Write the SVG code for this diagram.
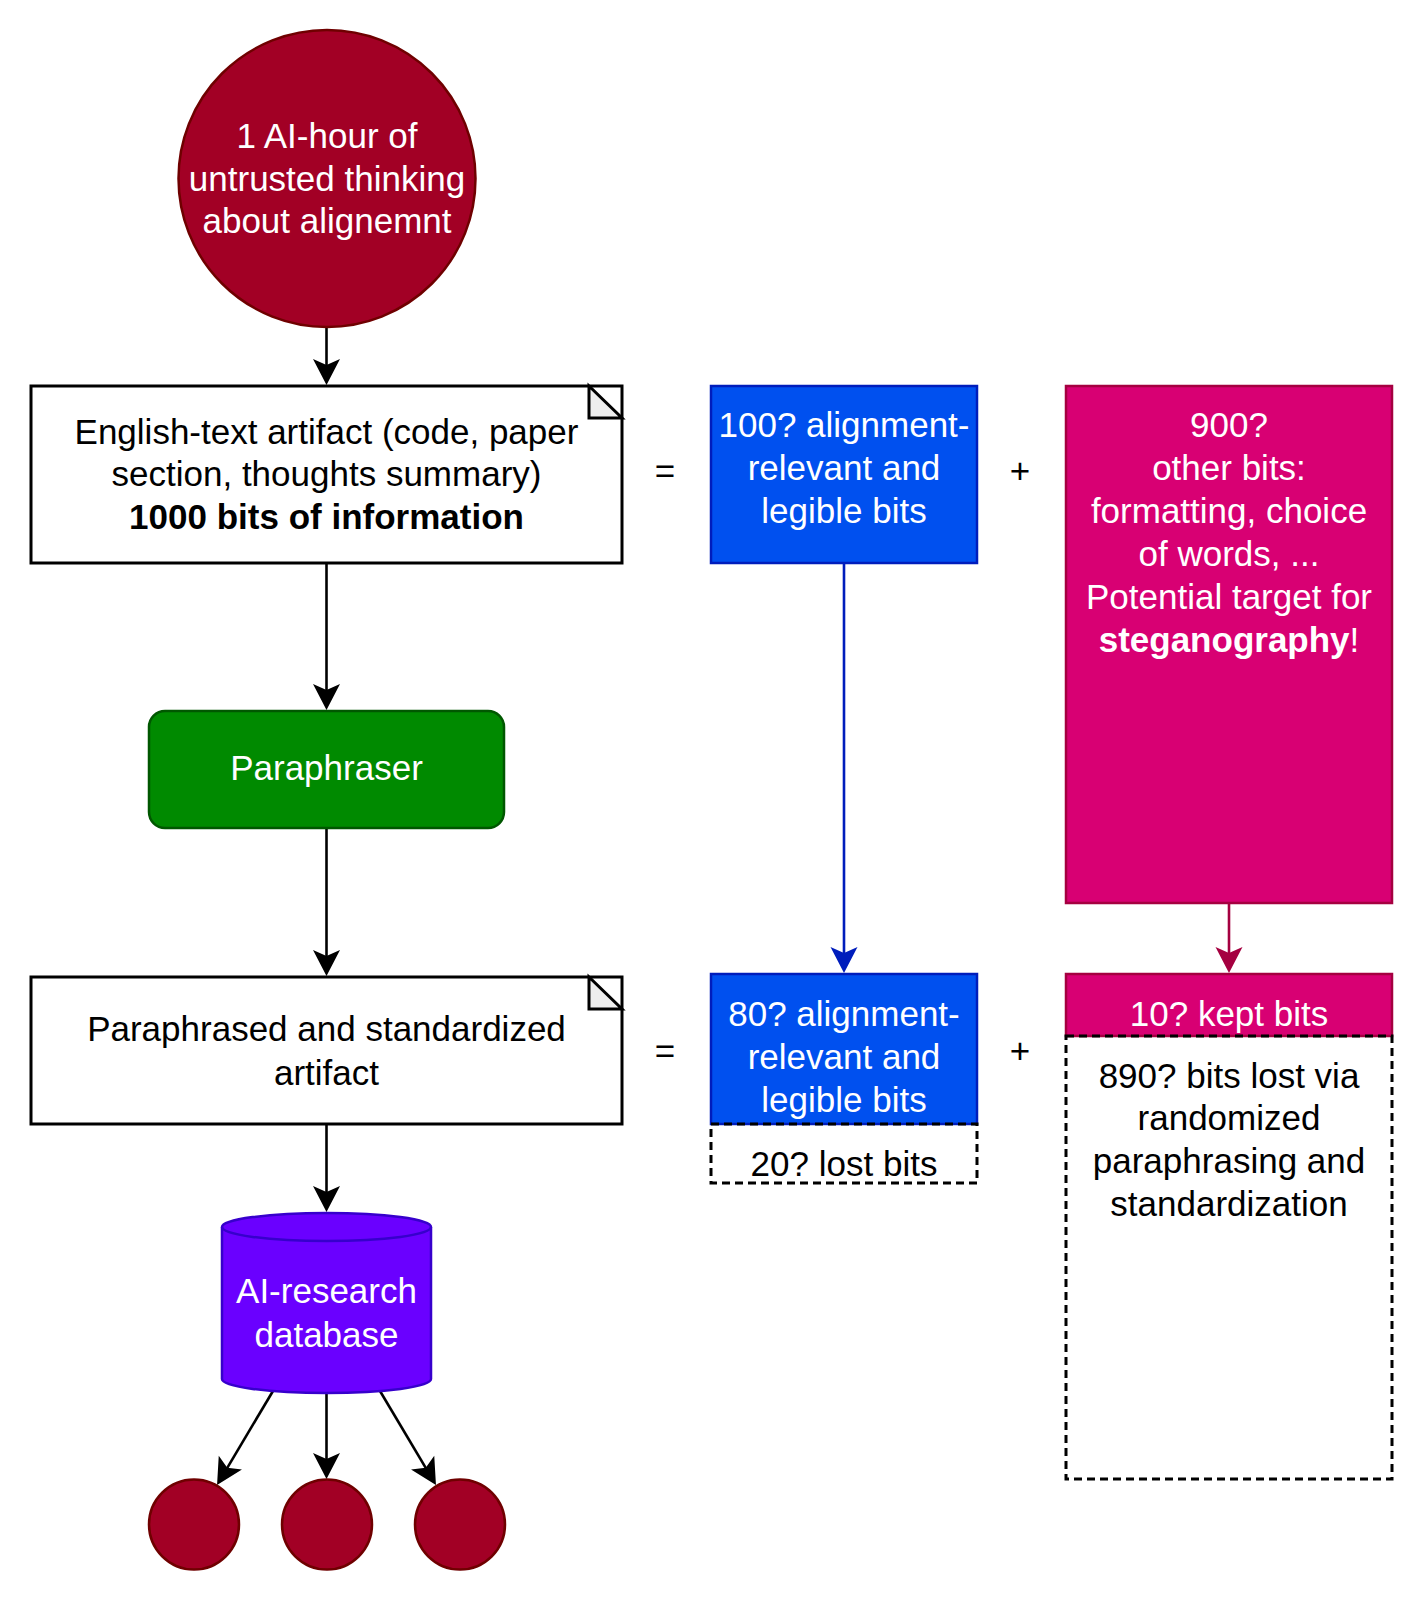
<svg xmlns="http://www.w3.org/2000/svg" width="1423" height="1600" viewBox="0 0 1423 1600">
<defs>
<style>
text{font-family:"Liberation Sans",Arial,Helvetica,sans-serif;font-size:35px;text-anchor:middle}
.w{fill:#fff}
.k{fill:#000}
.b{font-weight:bold}
.doc{fill:#fff;stroke:#000;stroke-width:3}
.fold{fill:#eeeeee;stroke:#000;stroke-width:3;stroke-linejoin:miter}
.dash{fill:none;stroke:#000;stroke-width:3;stroke-dasharray:8 5}
.red{fill:#a20025;stroke:#6f0000;stroke-width:2.5}
.blue{fill:#0050ef;stroke:#001dbc;stroke-width:2.5}
.mag{fill:#d80073;stroke:#a50040;stroke-width:2.5}
.green{fill:#008a00;stroke:#005700;stroke-width:2.5}
.ind{fill:#6a00ff;stroke:#3700cc;stroke-width:2.5}
.edge{fill:none;stroke:#000;stroke-width:2.6}
</style>
<marker id="ak" viewBox="-14 -15 28 30" refX="0" refY="0" markerWidth="28" markerHeight="30" markerUnits="userSpaceOnUse" orient="auto"><path d="M13,0 L-13,-13.5 L-7,0 L-13,13.5 Z" fill="#000"/></marker>
<marker id="ab" viewBox="-14 -15 28 30" refX="0" refY="0" markerWidth="28" markerHeight="30" markerUnits="userSpaceOnUse" orient="auto"><path d="M13,0 L-13,-13.5 L-7,0 L-13,13.5 Z" fill="#001dbc"/></marker>
<marker id="am" viewBox="-14 -15 28 30" refX="0" refY="0" markerWidth="28" markerHeight="30" markerUnits="userSpaceOnUse" orient="auto"><path d="M13,0 L-13,-13.5 L-7,0 L-13,13.5 Z" fill="#a50040"/></marker>
</defs>
<rect width="1423" height="1600" fill="#fff"/>

<g id="connectors">
<path class="edge" d="M326.5,328 L326.5,372" marker-end="url(#ak)"/>
<path class="edge" d="M326.5,564 L326.5,697" marker-end="url(#ak)"/>
<path class="edge" d="M326.5,829 L326.5,963" marker-end="url(#ak)"/>
<path class="edge" d="M326.5,1125 L326.5,1199" marker-end="url(#ak)"/>
<path class="edge" d="M273,1391 L223.7,1473.8" marker-end="url(#ak)"/>
<path class="edge" d="M326.5,1393 L326.5,1466" marker-end="url(#ak)"/>
<path class="edge" d="M380,1391 L429.3,1473.8" marker-end="url(#ak)"/>
<path d="M844,564 L844,960" fill="none" stroke="#001dbc" stroke-width="2.6" marker-end="url(#ab)"/>
<path d="M1229,904 L1229,960" fill="none" stroke="#a50040" stroke-width="2.6" marker-end="url(#am)"/>
</g>

<g id="start">
<circle class="red" cx="327" cy="178.5" r="148.5"/>
<text class="w" x="327" y="148">1 AI-hour of</text>
<text class="w" x="327" y="190.5">untrusted thinking</text>
<text class="w" x="327" y="233">about alignemnt</text>
</g>

<g id="artifact">
<rect class="doc" x="31" y="386" width="591" height="177"/>
<path class="fold" d="M589,386 L589,418 L622,418 Z"/>
<text class="k" x="326.5" y="444">English-text artifact (code, paper</text>
<text class="k" x="326.5" y="486">section, thoughts summary)</text>
<text class="k b" x="326.5" y="529">1000 bits of information</text>
</g>

<g id="eq1"><text class="k" x="665" y="483">=</text></g>

<g id="legible1">
<rect class="blue" x="711" y="386" width="266" height="177"/>
<text class="w" x="844" y="437">100? alignment-</text>
<text class="w" x="844" y="480">relevant and</text>
<text class="w" x="844" y="523">legible bits</text>
</g>

<g id="plus1"><text class="k" x="1020" y="483">+</text></g>

<g id="other">
<rect class="mag" x="1066" y="386" width="326" height="517"/>
<text class="w" x="1229" y="437">900?</text>
<text class="w" x="1229" y="480">other bits:</text>
<text class="w" x="1229" y="523">formatting, choice</text>
<text class="w" x="1229" y="566">of words, ...</text>
<text class="w" x="1229" y="609">Potential target for</text>
<text class="w" x="1229" y="652"><tspan class="b">steganography</tspan>!</text>
</g>

<g id="paraphraser">
<rect class="green" x="149" y="711" width="355" height="117" rx="16" ry="16"/>
<text class="w" x="326.5" y="780">Paraphraser</text>
</g>

<g id="paraphrased">
<rect class="doc" x="31" y="977" width="591" height="147"/>
<path class="fold" d="M589,977 L589,1009 L622,1009 Z"/>
<text class="k" x="326.5" y="1041">Paraphrased and standardized</text>
<text class="k" x="326.5" y="1085">artifact</text>
</g>

<g id="eq2"><text class="k" x="665" y="1063">=</text></g>

<g id="legible2">
<rect class="blue" x="711" y="974" width="266" height="150"/>
<text class="w" x="844" y="1026">80? alignment-</text>
<text class="w" x="844" y="1069">relevant and</text>
<text class="w" x="844" y="1112">legible bits</text>
</g>

<g id="lost20">
<rect class="dash" x="711" y="1124" width="266" height="59"/>
<text class="k" x="844" y="1176">20? lost bits</text>
</g>

<g id="plus2"><text class="k" x="1020" y="1063">+</text></g>

<g id="kept">
<rect class="mag" x="1066" y="974" width="326" height="62"/>
<text class="w" x="1229" y="1026">10? kept bits</text>
</g>

<g id="lost890">
<rect class="dash" x="1066" y="1036" width="326" height="443"/>
<text class="k" x="1229" y="1088">890? bits lost via</text>
<text class="k" x="1229" y="1130">randomized</text>
<text class="k" x="1229" y="1173">paraphrasing and</text>
<text class="k" x="1229" y="1216">standardization</text>
</g>

<g id="database">
<path class="ind" d="M222,1227 A104.5,14 0 0 1 431,1227 L431,1379 A104.5,14 0 0 1 222,1379 Z"/>
<path d="M222,1227 A104.5,14 0 0 0 431,1227" fill="none" stroke="#3700cc" stroke-width="2.5"/>
<text class="w" x="326.5" y="1303">AI-research</text>
<text class="w" x="326.5" y="1347">database</text>
</g>

<g id="out1"><circle class="red" cx="194" cy="1524.5" r="45"/></g>
<g id="out2"><circle class="red" cx="327" cy="1524.5" r="45"/></g>
<g id="out3"><circle class="red" cx="460" cy="1524.5" r="45"/></g>
</svg>
